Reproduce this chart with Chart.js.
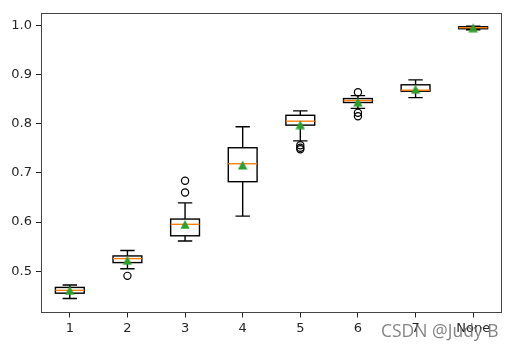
<!DOCTYPE html>
<html><head><meta charset="utf-8">
<script src="https://cdn.jsdelivr.net/npm/chart.js@4/dist/chart.umd.min.js"></script>
<style>html,body{margin:0;padding:0;background:#fff}#wrap{width:519px;height:351px}</style>
</head><body><div id="wrap"><canvas id="c" width="519" height="351"></canvas></div>
<script>
const categories = ['1','2','3','4','5','6','7','None'];
const whiskerLow  = [0.4445, 0.505, 0.5615, 0.612, 0.765, 0.831, 0.853, 0.991];
const q1          = [0.4553, 0.5175, 0.572, 0.682, 0.797, 0.843, 0.866, 0.993];
const medians     = [0.461, 0.5256, 0.5953, 0.7185, 0.805, 0.847, 0.868, 0.995];
const q3          = [0.467, 0.531, 0.606, 0.751, 0.817, 0.851, 0.879, 0.997];
const whiskerHigh = [0.472, 0.542, 0.639, 0.7936, 0.826, 0.857, 0.889, 0.998];
const means       = [0.461, 0.522, 0.595, 0.716, 0.798, 0.844, 0.870, 0.995];
const outliers    = [[], [0.4905], [0.660, 0.684], [], [0.756, 0.751, 0.748], [0.864, 0.822, 0.815], [], []];
const yTicks = [0.5, 0.6, 0.7, 0.8, 0.9, 1.0];

// triangle marker image (matplotlib '^')
const tri = document.createElement('canvas');
tri.width = 10; tri.height = 10;
(function(){const g = tri.getContext('2d');g.fillStyle='#2ca02c';g.beginPath();g.moveTo(5,0.5);g.lineTo(9.7,9.5);g.lineTo(0.3,9.5);g.closePath();g.fill();})();

const meanPts = means.map((m,i)=>({x:i+1,y:m}));
const outPts = [];
outliers.forEach((arr,i)=>arr.forEach(v=>outPts.push({x:i+1,y:v})));

const boxPlugin = {
  id:'boxes',
  beforeDatasetsDraw(chart){
    const ctx = chart.ctx, xs = chart.scales.x, ys = chart.scales.y;
    ctx.save();
    categories.forEach((c,i)=>{
      const xc = xs.getPixelForValue(i+1);
      const xl = xs.getPixelForValue(i+1-0.25), xr = xs.getPixelForValue(i+1+0.25);
      const cl = xs.getPixelForValue(i+1-0.125), cr = xs.getPixelForValue(i+1+0.125);
      const yL = ys.getPixelForValue(whiskerLow[i]), yQ1 = ys.getPixelForValue(q1[i]);
      const yM = ys.getPixelForValue(medians[i]), yQ3 = ys.getPixelForValue(q3[i]);
      const yH = ys.getPixelForValue(whiskerHigh[i]);
      ctx.strokeStyle='#000'; ctx.lineWidth=1.4;
      ctx.beginPath();
      ctx.moveTo(xc,yQ1); ctx.lineTo(xc,yL);
      ctx.moveTo(cl,yL); ctx.lineTo(cr,yL);
      ctx.moveTo(xc,yQ3); ctx.lineTo(xc,yH);
      ctx.moveTo(cl,yH); ctx.lineTo(cr,yH);
      ctx.stroke();
      ctx.strokeRect(xl, yQ3, xr-xl, yQ1-yQ3);
      ctx.strokeStyle='#ff7f0e'; ctx.lineWidth=1.4;
      ctx.beginPath(); ctx.moveTo(xl,yM); ctx.lineTo(xr,yM); ctx.stroke();
    });
    ctx.restore();
  },
  afterDraw(chart){
    const ctx = chart.ctx, a = chart.chartArea;
    ctx.save();
    ctx.strokeStyle='#444'; ctx.lineWidth=1;
    ctx.strokeRect(Math.round(a.left)+0.5, Math.round(a.top)+0.5, Math.round(a.right-a.left)-1, Math.round(a.bottom-a.top)-1);
    ctx.font = '17.5px "Open Sans"';
    ctx.fillStyle = 'rgba(110,110,110,0.85)';
    ctx.textBaseline='alphabetic';
    ctx.fillText('CSDN @Judy B', 381, 337);
    ctx.restore();
  }
};

new Chart(document.getElementById('c'), {
  type:'scatter',
  data:{datasets:[
    {label:'mean', data:meanPts, pointStyle:tri, pointRadius:5, pointHoverRadius:5},
    {label:'outliers', data:outPts, pointStyle:'circle', pointRadius:3.6, pointHoverRadius:3.6, borderColor:'#000', backgroundColor:'rgba(0,0,0,0)', borderWidth:1.2}
  ]},
  options:{
    responsive:false, animation:false,
    layout:{padding:{top:13,right:17,left:0,bottom:0}},
    plugins:{legend:{display:false},tooltip:{enabled:false}},
    scales:{
      x:{type:'linear',min:0.5,max:8.5,
        afterBuildTicks(s){s.ticks = categories.map((c,i)=>({value:i+1}));},
        afterFit(s){s.height = 38.5;},
        ticks:{callback:(v)=>categories[Math.round(v)-1], color:'#262626', font:{family:'DejaVu Sans',size:13}, padding:3, maxRotation:0, autoSkip:false},
        grid:{drawOnChartArea:false, drawTicks:true, tickLength:5, color:'#222'},
        border:{display:false}
      },
      y:{type:'linear',min:0.416,max:1.025,
        afterBuildTicks(s){s.ticks = yTicks.map(v=>({value:v}));},
        afterFit(s){s.width = 41;},
        ticks:{callback:(v)=>v.toFixed(1), color:'#262626', font:{family:'DejaVu Sans',size:13}, padding:4},
        grid:{drawOnChartArea:false, drawTicks:true, tickLength:5, color:'#222'},
        border:{display:false}
      }
    }
  },
  plugins:[boxPlugin]
});
</script></body></html>
